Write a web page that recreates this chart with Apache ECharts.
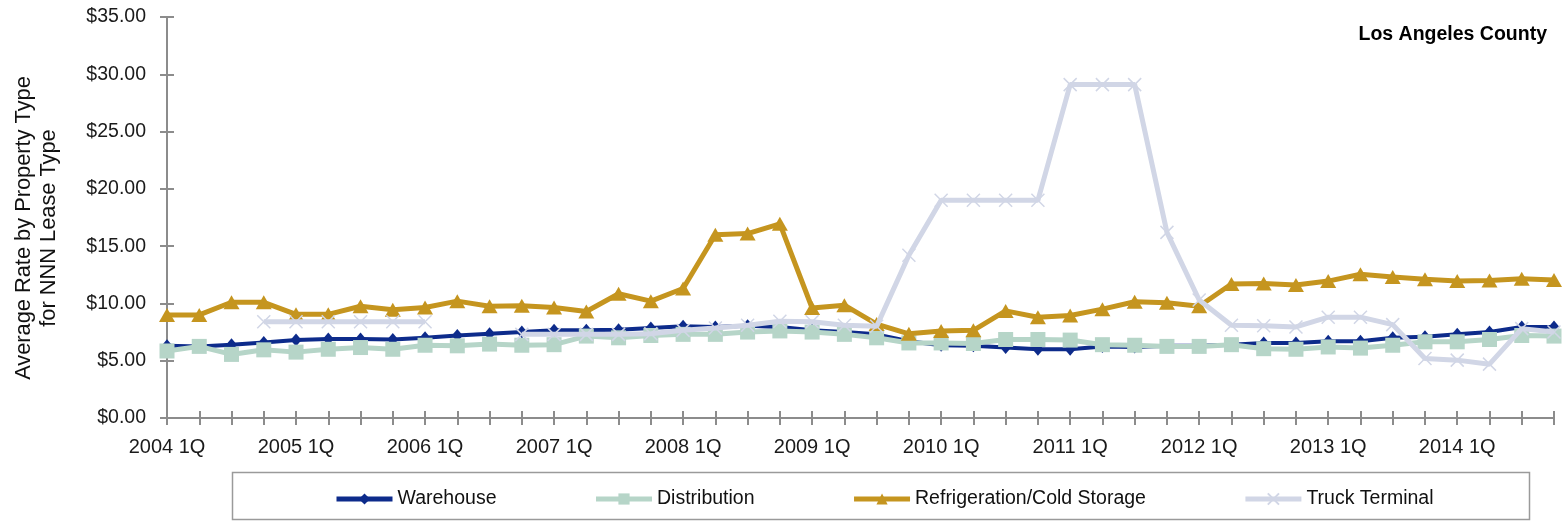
<!DOCTYPE html>
<html>
<head>
<meta charset="utf-8">
<script src="https://cdn.jsdelivr.net/npm/echarts@6/dist/echarts.min.js"></script>
<style>
  html, body { margin: 0; padding: 0; background: #ffffff; }
  #chart { width: 1562px; height: 521px; }
</style>
</head>
<body>
<div id="chart"></div>
<script>
// Quarterly NNN lease rates, 2004 1Q – 2014 4Q
const quarters = [
  '2004 1Q','2004 2Q','2004 3Q','2004 4Q',
  '2005 1Q','2005 2Q','2005 3Q','2005 4Q',
  '2006 1Q','2006 2Q','2006 3Q','2006 4Q',
  '2007 1Q','2007 2Q','2007 3Q','2007 4Q',
  '2008 1Q','2008 2Q','2008 3Q','2008 4Q',
  '2009 1Q','2009 2Q','2009 3Q','2009 4Q',
  '2010 1Q','2010 2Q','2010 3Q','2010 4Q',
  '2011 1Q','2011 2Q','2011 3Q','2011 4Q',
  '2012 1Q','2012 2Q','2012 3Q','2012 4Q',
  '2013 1Q','2013 2Q','2013 3Q','2013 4Q',
  '2014 1Q','2014 2Q','2014 3Q','2014 4Q'
];

const warehouse = [
  6.30, 6.25, 6.40, 6.60, 6.80, 6.90, 6.90, 6.85,
  7.00, 7.20, 7.35, 7.50, 7.65, 7.65, 7.70, 7.85,
  8.00, 7.95, 8.05, 7.95, 7.65, 7.50, 7.30, 6.70,
  6.35, 6.30, 6.15, 6.00, 6.00, 6.25, 6.20, 6.30,
  6.30, 6.40, 6.55, 6.55, 6.70, 6.70, 7.00, 7.10,
  7.30, 7.50, 7.95, 7.95
];

const distribution = [
  5.85, 6.25, 5.55, 5.95, 5.75, 6.00, 6.15, 6.00,
  6.35, 6.30, 6.45, 6.35, 6.40, 7.15, 7.00, 7.20,
  7.30, 7.30, 7.50, 7.60, 7.50, 7.30, 7.00, 6.55,
  6.55, 6.50, 6.85, 6.85, 6.80, 6.40, 6.35, 6.25,
  6.25, 6.40, 6.05, 6.00, 6.20, 6.10, 6.35, 6.65,
  6.65, 6.85, 7.20, 7.15
];

const refrigeration = [
  9.00, 9.00, 10.10, 10.10, 9.05, 9.05, 9.75, 9.45,
  9.65, 10.20, 9.75, 9.80, 9.65, 9.30, 10.85, 10.20,
  11.30, 16.00, 16.10, 16.95, 9.60, 9.85, 8.20, 7.35,
  7.60, 7.65, 9.35, 8.80, 8.95, 9.50, 10.15, 10.05,
  9.75, 11.70, 11.75, 11.60, 11.95, 12.55, 12.30, 12.10,
  11.95, 12.00, 12.15, 12.05
];

const truckTerminal = [
  null, null, null, 8.40, 8.40, 8.40, 8.40, 8.40,
  8.40, null, null, 7.30, 7.30, 7.30, 7.30, 7.35,
  7.65, 7.85, 8.10, 8.45, 8.40, 8.10, 8.00, 14.20,
  19.00, 19.00, 19.00, 19.00, 29.10, 29.10, 29.10, 16.20,
  10.30, 8.10, 8.05, 7.95, 8.80, 8.80, 8.15, 5.20,
  5.05, 4.70, 7.80, 7.50
];

const seriesNames = ['Warehouse', 'Distribution', 'Refrigeration/Cold Storage', 'Truck Terminal'];
const yTicks = { min: 0, max: 35, step: 5 };

const FONT = "'Liberation Sans', Arial, sans-serif";
const AXIS_GREY = '#8c8c8c';
const CROSS = 'path://M0,0 L1,1 M1,0 L0,1';

const chart = echarts.init(document.getElementById('chart'), null, { renderer: 'canvas' });

const gridBox = { left: 167, right: 8, top: 17, bottom: 103 };

function xAxisBase(extra) {
  return Object.assign({
    type: 'category',
    data: quarters,
    boundaryGap: false,
    position: 'bottom',
    axisLine: { show: true, onZero: false, lineStyle: { color: AXIS_GREY, width: 2 } },
    axisTick: { show: true, interval: 0, length: 7, lineStyle: { color: AXIS_GREY, width: 2 } },
    splitLine: { show: false }
  }, extra);
}

function yAxisBase(extra) {
  return Object.assign({
    type: 'value',
    min: yTicks.min,
    max: yTicks.max,
    interval: yTicks.step,
    position: 'left',
    axisLine: { show: true, lineStyle: { color: AXIS_GREY, width: 2 } },
    axisTick: { show: true, length: 7, lineStyle: { color: AXIS_GREY, width: 2 } },
    splitLine: { show: false }
  }, extra);
}

const option = {
  animation: false,
  backgroundColor: '#ffffff',
  grid: gridBox,
  xAxis: [
    xAxisBase({
      axisLabel: {
        interval: 3,
        margin: 19,
        color: '#1a1a1a',
        fontFamily: FONT,
        fontSize: 20
      }
    }),
    // second copy carries the inner half of the crossing tick marks
    xAxisBase({
      axisLine: { show: false },
      axisTick: { show: true, interval: 0, inside: true, length: 7, lineStyle: { color: AXIS_GREY, width: 2 } },
      axisLabel: { show: false }
    })
  ],
  yAxis: [
    yAxisBase({
      axisLabel: {
        margin: 21,
        color: '#1a1a1a',
        fontFamily: FONT,
        fontSize: 19.5,
        formatter: v => '$' + v.toFixed(2)
      }
    }),
    yAxisBase({
      axisLine: { show: false },
      axisTick: { show: true, inside: true, length: 7, lineStyle: { color: AXIS_GREY, width: 2 } },
      axisLabel: { show: false }
    })
  ],
  legend: {
    data: seriesNames,
    left: 334,
    top: 489,
    itemWidth: 56,
    itemHeight: 14,
    itemGap: 97,
    padding: 0,
    lineStyle: { width: 5 },
    textStyle: { fontFamily: FONT, fontSize: 19.5, color: '#111' }
  },
  graphic: [
    {
      type: 'rect',
      shape: { x: 232.5, y: 472.5, width: 1297, height: 47 },
      style: { fill: 'none', stroke: '#9a9a9a', lineWidth: 1.5 },
      silent: true
    },
    {
      type: 'text',
      x: 1547,
      y: 35,
      style: {
        text: 'Los Angeles County',
        fontFamily: FONT,
        fontSize: 19.5,
        fontWeight: 'bold',
        fill: '#000',
        textAlign: 'right',
        textVerticalAlign: 'middle'
      },
      silent: true
    },
    {
      type: 'text',
      x: 36,
      y: 228,
      rotation: Math.PI / 2,
      style: {
        text: 'Average Rate by Property Type\nfor NNN Lease Type',
        fontFamily: FONT,
        fontSize: 21.8,
        lineHeight: 25,
        fill: '#111',
        textAlign: 'center',
        textVerticalAlign: 'middle'
      },
      silent: true
    }
  ],
  series: [
    {
      name: seriesNames[0],
      type: 'line',
      data: warehouse,
      symbol: 'diamond',
      symbolSize: [11, 13],
      showAllSymbol: true,
      lineStyle: { color: '#0d2b8b', width: 4 },
      itemStyle: { color: '#0d2b8b' },
      z: 2
    },
    {
      name: seriesNames[1],
      type: 'line',
      data: distribution,
      symbol: 'rect',
      symbolSize: 15,
      showAllSymbol: true,
      lineStyle: { color: '#b6d5c8', width: 5 },
      itemStyle: { color: '#b6d5c8' },
      z: 3
    },
    {
      name: seriesNames[2],
      type: 'line',
      data: refrigeration,
      symbol: 'triangle',
      symbolSize: [16, 14],
      showAllSymbol: true,
      lineStyle: { color: '#c5951f', width: 5 },
      itemStyle: { color: '#c5951f' },
      z: 4
    },
    {
      name: seriesNames[3],
      type: 'line',
      data: truckTerminal,
      connectNulls: false,
      symbol: CROSS,
      symbolSize: 13,
      showAllSymbol: true,
      lineStyle: { color: '#d1d6e6', width: 5 },
      itemStyle: { color: '#d1d6e6', borderColor: '#d1d6e6', borderWidth: 1.5 },
      z: 5
    }
  ]
};

chart.setOption(option);
</script>
</body>
</html>
